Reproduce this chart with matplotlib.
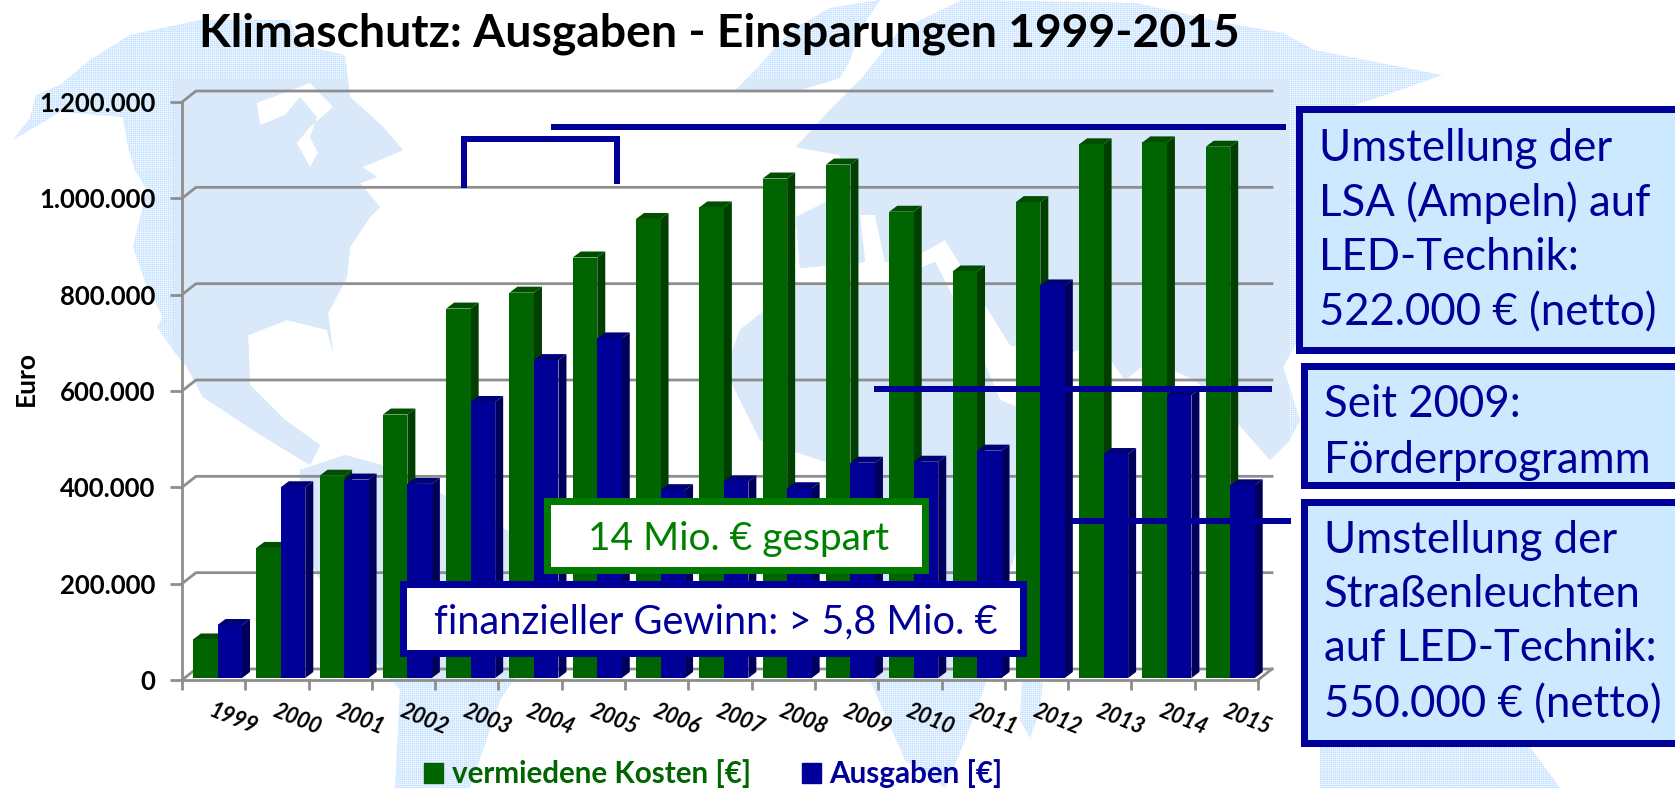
#Klimaschutz: Ausgaben und Einsparungen 1999-2015

import numpy as np
import matplotlib
matplotlib.use("Agg")
import matplotlib.pyplot as plt
from matplotlib.patches import Polygon, Rectangle

plt.rcParams["font.family"] = ["Lato", "DejaVu Sans"]
plt.rcParams["hatch.linewidth"] = 0.3

jahre = [1999, 2000, 2001, 2002, 2003, 2004, 2005, 2006, 2007, 2008, 2009, 2010, 2011, 2012, 2013, 2014, 2015]
vermiedene_kosten = [80000, 270000, 420000, 547000, 767000, 800000, 873000, 953000, 977000, 1037000,
                     1066000, 968000, 844000, 988000, 1108000, 1112000, 1103000]
ausgaben = [110000, 396000, 412000, 403000, 573000, 660000, 705000, 390000, 408000, 394000,
            447000, 449000, 472000, 815000, 465000, 587000, 400000]
y_ticks = [0, 200000, 400000, 600000, 800000, 1000000, 1200000]
y_labels = ["0", "200.000", "400.000", "600.000", "800.000", "1.000.000", "1.200.000"]

GRUEN, GRUEN_SEITE, GRUEN_OBEN = "#006400", "#003f00", "#004f00"
BLAU, BLAU_SEITE, BLAU_OBEN = "#000099", "#00005c", "#000078"
GRAU = "#8e8e8e"
W, H = 1675, 788

# Weltkarte im Hintergrund, grob in Pixeln
land = [
    [(13, 140), (30, 118), (36, 95), (60, 85), (90, 60), (130, 35), (200, 20), (290, 20), (300, 45), (345, 55),
     (350, 97), (383, 127), (403, 150), (387, 157), (362, 167), (377, 177), (360, 183), (380, 207), (370, 217),
     (350, 247), (347, 277), (328, 313), (333, 353), (327, 330), (287, 320), (248, 335), (250, 385), (285, 420),
     (320, 445), (310, 465), (256, 432), (203, 397), (187, 367), (173, 350), (157, 327), (163, 317), (147, 287),
     (133, 247), (147, 190), (135, 170), (128, 147), (123, 117), (60, 112)],
    [(300, 470), (345, 455), (400, 470), (470, 510), (560, 560), (540, 640), (500, 700), (470, 788), (395, 788),
     (400, 690), (340, 620), (300, 540)],
    [(734, 92), (760, 65), (779, 43), (800, 25), (830, 8), (880, 0), (860, 30), (850, 60), (840, 78), (800, 90)],
    [(796, 147), (830, 110), (860, 80), (900, 30), (962, 0), (1136, 3), (1225, 23), (1283, 33), (1314, 50),
     (1442, 75), (1400, 90), (1340, 110), (1320, 300), (1283, 367), (1300, 420), (1290, 440), (1270, 460),
     (1235, 420), (1195, 380), (1150, 360), (1125, 380), (1100, 345), (1060, 355), (1010, 345), (945, 240),
     (905, 262), (885, 262), (875, 215), (860, 215), (865, 262), (800, 268), (796, 217), (850, 190), (840, 155)],
    [(796, 285), (830, 285), (880, 285), (935, 262), (975, 340), (1000, 400), (1050, 420), (1040, 480), (1000, 600),
     (987, 680), (965, 740), (945, 788), (905, 760), (870, 680), (870, 560), (850, 470), (760, 440), (725, 370),
     (740, 330)],
    [(1022, 680), (1043, 680), (1040, 710), (1030, 738), (1020, 720)],
    [(1320, 747), (1530, 747), (1560, 788), (1320, 788)],
]
wasser = [
    [(257, 103), (310, 83), (333, 107), (310, 127), (297, 143), (310, 167), (318, 153), (310, 137), (317, 117),
     (300, 97), (285, 115), (260, 125)],
]

fig = plt.figure(figsize=(W / 100, H / 100), dpi=100, facecolor="white")

bg = fig.add_axes([0, 0, 1, 1], zorder=0)
bg.set_xlim(0, W)
bg.set_ylim(H, 0)
bg.axis("off")
innen = Rectangle((173, 80), 1117, 600, transform=bg.transData)
for pts in land:
    bg.add_patch(Polygon(pts, closed=True, fc="#c4e1ff", ec="white", lw=0, hatch="++++++++"))
    p = Polygon(pts, closed=True, fc="#d9e9fa", ec="none")
    bg.add_patch(p)
    p.set_clip_path(innen)
for pts in wasser:
    bg.add_patch(Polygon(pts, closed=True, fc="white", ec="none"))

# Diagramm: die Achsen liegen auf der vorderen Ebene
ax = fig.add_axes([182 / W, (H - 680) / H, 1076 / W, 578 / H], zorder=1)
ax.patch.set_alpha(0)
ax.set_xlim(0, len(jahre))
ax.set_ylim(0, 1200000)
px_x = len(jahre) / 1076
px_y = 1200000 / 578

wand_dx = 14 * px_x
wand_dy = 11 * px_y
for wert in y_ticks:
    ax.plot([0, wand_dx, len(jahre) + wand_dx], [wert, wert + wand_dy, wert + wand_dy],
            color=GRAU, lw=2, clip_on=False, zorder=1)
ax.plot([len(jahre), len(jahre) + wand_dx], [0, wand_dy], color=GRAU, lw=2, clip_on=False, zorder=1)

x = np.arange(len(jahre))
breite = 24.5 * px_x
start = 11 * px_x
tiefe_x = 8 * px_x
tiefe_y = 6 * px_y
boden = 2 * px_y

z = 3
for serie, links, farben in [(vermiedene_kosten, start, (GRUEN, GRUEN_SEITE, GRUEN_OBEN)),
                             (ausgaben, start + breite, (BLAU, BLAU_SEITE, BLAU_OBEN))]:
    ax.bar(x + links, serie, breite, bottom=boden, align="edge", color=farben[0], zorder=z + 1, clip_on=False)
    for xi, wert in zip(x + links, serie):
        top = wert + boden
        ax.fill([xi + breite, xi + breite + tiefe_x, xi + breite + tiefe_x, xi + breite],
                [boden, boden + tiefe_y, top + tiefe_y, top], color=farben[1], lw=0, zorder=z, clip_on=False)
        ax.fill([xi, xi + tiefe_x, xi + breite + tiefe_x, xi + breite],
                [top, top + tiefe_y, top + tiefe_y, top], color=farben[2], lw=0, zorder=z, clip_on=False)
    z += 2

ax.set_yticks(y_ticks, y_labels, fontsize=18.5, fontweight="bold")
ax.set_xticks(np.arange(len(jahre) + 1), [""] * (len(jahre) + 1))
ax.tick_params(axis="y", length=9, width=2, color=GRAU, pad=10)
ax.tick_params(axis="x", length=7, width=2, color=GRAU)
for seite in ["top", "right"]:
    ax.spines[seite].set_visible(False)
for seite in ["left", "bottom"]:
    ax.spines[seite].set_color(GRAU)
    ax.spines[seite].set_linewidth(2)
    ax.spines[seite].set_zorder(2)

for xi, jahr in zip(x, jahre):
    ax.annotate(str(jahr), (xi, 0), xytext=(52, -39), textcoords="offset pixels", ha="center", va="center",
                rotation=-22, rotation_mode="anchor", fontsize=15.5, fontweight="bold", fontstyle="italic")

ax.set_ylabel("Euro", fontsize=19, fontweight="bold", labelpad=0)
ax.yaxis.set_label_coords((38 - 182) / 1076, (680 - 379) / 578)

griffe = [Rectangle((0, 0), 1, 1, color=GRUEN), Rectangle((0, 0), 1, 1, color=BLAU)]
ax.legend(griffe, ["vermiedene Kosten [€]", "Ausgaben [€]"], ncol=2, frameon=False,
          prop={"weight": "bold", "size": 21.3}, labelcolor=[GRUEN, BLAU], loc="center left",
          bbox_to_anchor=((424 - 182) / 1076, (680 - 774) / 578), handlelength=0.65, handleheight=0.65,
          handletextpad=0.3, columnspacing=1.7, borderpad=0, borderaxespad=0)

# Kaesten und Linien obendrauf, in Pixeln
ov = fig.add_axes([0, 0, 1, 1], zorder=2)
ov.set_xlim(0, W)
ov.set_ylim(H, 0)
ov.axis("off")
ov.patch.set_alpha(0)

ov.text(199, 46, "Klimaschutz: Ausgaben - Einsparungen 1999-2015", fontsize=33.3, fontweight="bold", va="baseline")

dicke = 6 * 0.72
for xs, ys in [([551, 1286], [127, 127]), ([874, 1272], [389, 389]), ([1071, 1291], [521, 521]),
               ([464, 464, 617, 617], [188, 139, 139, 184])]:
    ov.plot(xs, ys, color=BLAU, lw=dicke, solid_capstyle="butt", solid_joinstyle="miter")


def kasten(x0, y0, x1, y1, rand, fuellung):
    ov.add_patch(Rectangle((x0, y0), x1 - x0, y1 - y0, fc=rand, ec="none"))
    ov.add_patch(Rectangle((x0 + 7, y0 + 7), x1 - x0 - 14, y1 - y0 - 14, fc=fuellung, ec="none"))


HELL = "#cce9ff"
kasten(1296, 106, 1690, 354, BLAU, HELL)
kasten(1301, 363, 1690, 489, BLAU, HELL)
kasten(1301, 499, 1690, 747, BLAU, HELL)
kasten(544, 498, 929, 574, "#007a00", "white")
kasten(400, 581, 1027, 657, BLAU, "white")

ov.text(588, 550, "14 Mio. € gespart", fontsize=28, color="#008000", va="baseline")
ov.text(434, 633, "finanzieller Gewinn: > 5,8 Mio. €", fontsize=28.5, color=BLAU, va="baseline")

for xt, yt, zeile in [(1319, 161, "Umstellung der"), (1319, 216, "LSA (Ampeln) auf"), (1319, 270, "LED-Technik:"),
                      (1319, 325, "522.000 € (netto)"), (1324, 417, "Seit 2009:"), (1324, 473, "Förderprogramm"),
                      (1324, 553, "Umstellung der"), (1324, 607, "Straßenleuchten"), (1324, 661, "auf LED-Technik:"),
                      (1324, 717, "550.000 € (netto)")]:
    ov.text(xt, yt, zeile, fontsize=31.5, color=BLAU, va="baseline")

fig.savefig("out.png", dpi=100)
